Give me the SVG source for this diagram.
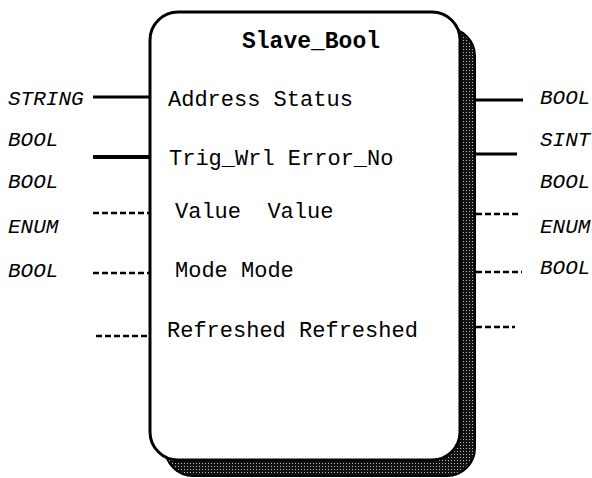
<svg xmlns="http://www.w3.org/2000/svg" width="592" height="478" viewBox="0 0 592 478">
  <style>
    .pin { font-family: "Liberation Mono", "Courier New", monospace; font-size: 22px; fill: #000; }
    .title { font-family: "Liberation Mono", "Courier New", monospace; font-size: 23px; font-weight: bold; fill: #000; }
    .type { font-family: "Liberation Mono", "Courier New", monospace; font-size: 21px; font-style: italic; fill: #000; }
    .solid { stroke: #000; stroke-width: 3; fill: none; }
    .thick { stroke: #000; stroke-width: 4; fill: none; }
    .dash { stroke: #000; stroke-width: 2.4; stroke-dasharray: 6 3; fill: none; }
  </style>
  <defs>
    <pattern id="dither" width="3" height="3" patternUnits="userSpaceOnUse">
      <rect width="3" height="3" fill="#111"/>
      <rect x="1" y="1" width="1" height="1" fill="#bbb"/>
    </pattern>
  </defs>
  <rect width="592" height="478" fill="#fff"/>

  <!-- function block Slave_Bool with drop shadow -->
  <g id="block">
    <rect x="165" y="28" width="310" height="448" rx="28" fill="url(#dither)" stroke="#000" stroke-width="2"/>
    <rect x="150" y="12" width="310" height="448" rx="28" fill="#fff" stroke="#000" stroke-width="3"/>
    <text class="title" x="311" y="48" text-anchor="middle">Slave_Bool</text>
    <text class="pin" x="168" y="106" xml:space="preserve">Address Status</text>
    <text class="pin" x="169" y="165" xml:space="preserve">Trig_Wrl Error_No</text>
    <text class="pin" x="175" y="218" xml:space="preserve">Value  Value</text>
    <text class="pin" x="175" y="277" xml:space="preserve">Mode Mode</text>
    <text class="pin" x="167" y="337" xml:space="preserve">Refreshed Refreshed</text>
  </g>

  <!-- input data types -->
  <g id="inputs">
    <text class="type" x="8" y="105">STRING</text>
    <text class="type" x="8" y="146">BOOL</text>
    <text class="type" x="8" y="188">BOOL</text>
    <text class="type" x="8" y="233">ENUM</text>
    <text class="type" x="8" y="277">BOOL</text>
  </g>

  <!-- output data types -->
  <g id="outputs">
    <text class="type" x="540" y="104">BOOL</text>
    <text class="type" x="540" y="146">SINT</text>
    <text class="type" x="540" y="188">BOOL</text>
    <text class="type" x="540" y="233">ENUM</text>
    <text class="type" x="540" y="274">BOOL</text>
  </g>

  <!-- pin connectors -->
  <g id="connectors">
    <line class="solid" x1="93" y1="97" x2="150" y2="97"/>
    <line class="thick" x1="93" y1="157" x2="150" y2="157"/>
    <line class="dash" x1="93" y1="213" x2="150" y2="213"/>
    <line class="dash" x1="93" y1="273" x2="150" y2="273"/>
    <line class="dash" x1="96" y1="336" x2="150" y2="336"/>

    <line class="solid" x1="475" y1="100" x2="523" y2="100"/>
    <line class="solid" x1="475" y1="154" x2="517" y2="154"/>
    <line class="dash" x1="476" y1="214" x2="520" y2="214"/>
    <line class="dash" x1="476" y1="272" x2="522" y2="272"/>
    <line class="dash" x1="476" y1="327" x2="515" y2="327"/>
  </g>
</svg>
